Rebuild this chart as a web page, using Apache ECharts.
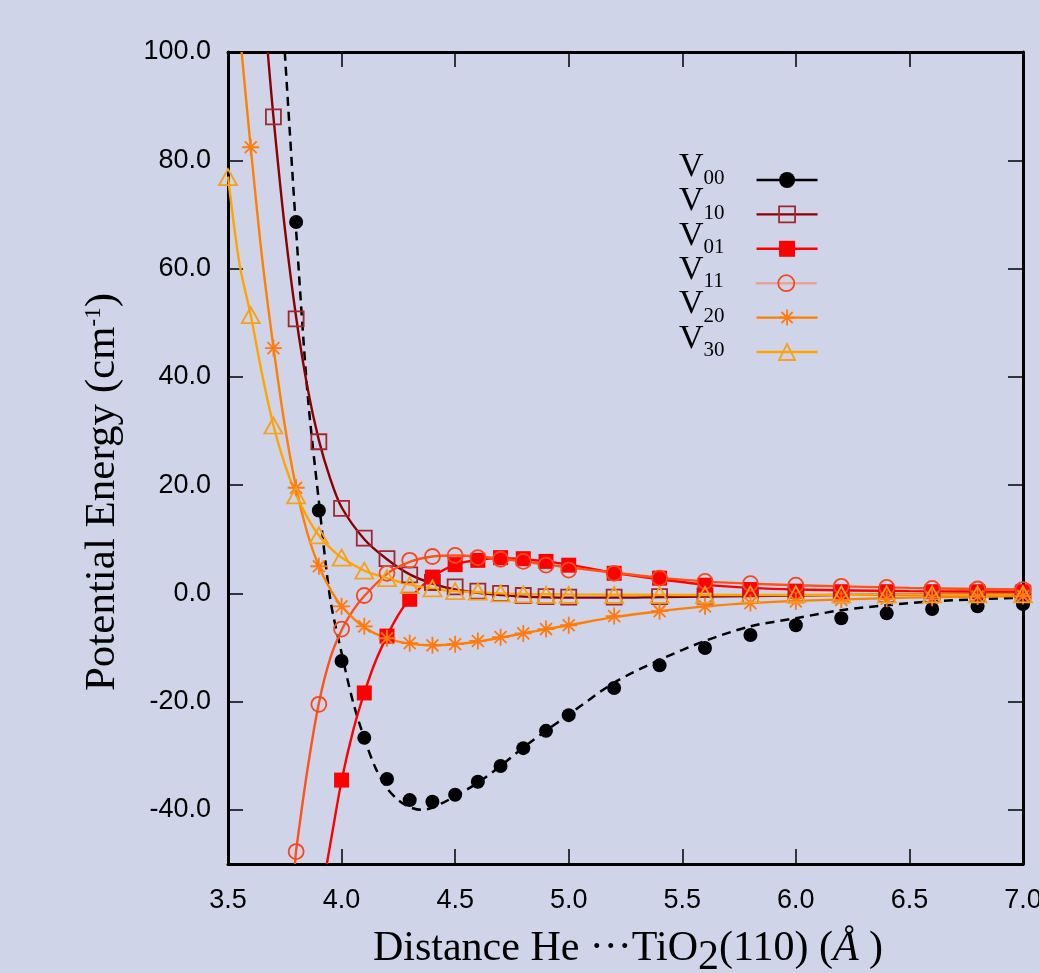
<!DOCTYPE html>
<html>
<head>
<meta charset="utf-8">
<script src="https://cdn.jsdelivr.net/npm/echarts@6.0.0/dist/echarts.min.js"></script>
<style>
  html, body { margin: 0; padding: 0; background: #cfd4e9; }
  #main { width: 1039px; height: 973px; }
</style>
</head>
<body>
<div id="main"></div>
<script>
// marker positions (Angstrom)
const xPts = [3.5, 3.6, 3.7, 3.8, 3.9, 4.0, 4.1, 4.2, 4.3, 4.4, 4.5, 4.6, 4.7, 4.8, 4.9, 5.0, 5.2, 5.4, 5.6, 5.8, 6.0, 6.2, 6.4, 6.6, 6.8, 7.0];

// ab initio points, cm-1
const v00 = [null, null, null, 68.6, 15.3, -12.5, -26.7, -34.3, -38.2, -38.5, -37.2, -34.8, -31.9, -28.6, -25.4, -22.5, -17.5, -13.3, -10.1, -7.7, -5.9, -4.6, -3.7, -2.9, -2.4, -2.0];
const v10 = [null, null, 88.0, 50.7, 28.0, 15.7, 10.2, 6.4, 3.4, 2.0, 1.2, 0.4, 0.0, -0.4, -0.6, -0.7, -0.7, -0.6, -0.5, -0.4, -0.3, -0.3, -0.2, -0.2, -0.1, -0.1];
const v01 = [null, null, null, null, null, -34.5, -18.4, -7.9, -1.1, 3.0, 5.3, 6.1, 6.6, 6.4, 5.9, 5.2, 3.7, 2.8, 1.5, 0.7, 0.4, 0.3, 0.3, 0.3, 0.3, 0.3];
const v11 = [null, null, null, -47.7, -20.5, -6.6, -0.4, 3.7, 6.1, 6.8, 7.0, 6.6, 6.3, 5.9, 5.2, 4.3, 3.7, 2.8, 2.2, 1.8, 1.5, 1.3, 1.1, 0.9, 0.8, 0.7];
const v20 = [null, 82.4, 45.3, 19.5, 5.0, -2.4, -6.1, -8.3, -9.2, -9.6, -9.4, -8.8, -8.1, -7.4, -6.6, -5.9, -4.2, -3.3, -2.4, -1.8, -1.5, -1.2, -1.0, -0.8, -0.6, -0.5];
const v30 = [76.9, 51.4, 31.0, 18.1, 10.7, 6.6, 4.2, 2.8, 1.5, 0.9, 0.4, 0.3, 0.0, -0.2, -0.3, -0.3, -0.3, -0.3, -0.3, -0.2, -0.2, -0.2, -0.2, -0.2, -0.2, -0.2];

// fitted curves
const fit00 = [[3.75, 100], [3.8, 67], [3.85, 37], [3.9, 17], [3.95, -1], [4.0, -11], [4.05, -20], [4.1, -26.8], [4.15, -32.3], [4.2, -36], [4.25, -38.2], [4.3, -39.5], [4.35, -40], [4.4, -39.6], [4.45, -38.6], [4.5, -37.5], [4.6, -35], [4.7, -31.9], [4.8, -28.5], [4.9, -25.4], [5.0, -22.4], [5.2, -16.5], [5.4, -12.3], [5.6, -8.8], [5.8, -6.1], [6.0, -4.6], [6.2, -3.1], [6.4, -2.2], [6.6, -1.5], [6.8, -1.1], [7.0, -0.8]];
const fit10 = [[3.675, 100], [3.7, 88], [3.75, 67.5], [3.8, 51], [3.85, 38], [3.9, 28.3], [3.95, 21.2], [4.0, 15.9], [4.1, 10], [4.2, 6.3], [4.3, 3.5], [4.4, 1.8], [4.5, 0.7], [4.6, 0.1], [4.7, -0.3], [4.8, -0.6], [5.0, -0.8], [5.2, -0.8], [5.4, -0.7], [5.6, -0.6], [6.0, -0.4], [6.5, -0.2], [7.0, -0.1]];
const fit01 = [[3.935, -50], [3.96, -44], [4.0, -34.6], [4.05, -25.5], [4.1, -18.4], [4.15, -12.5], [4.2, -7.9], [4.25, -4], [4.3, -1], [4.4, 3], [4.5, 5.3], [4.6, 6.2], [4.7, 6.5], [4.8, 6.3], [4.9, 5.9], [5.0, 5.3], [5.2, 3.8], [5.4, 2.6], [5.6, 1.6], [5.8, 1.0], [6.0, 0.7], [6.5, 0.4], [7.0, 0.3]];
const fit11 = [[3.795, -50], [3.8, -47.5], [3.85, -32.5], [3.9, -20.3], [3.95, -12], [4.0, -6.8], [4.05, -3.2], [4.1, -0.5], [4.2, 3.6], [4.3, 5.8], [4.4, 6.8], [4.5, 7.0], [4.6, 6.8], [4.7, 6.4], [4.8, 5.9], [4.9, 5.3], [5.0, 4.8], [5.2, 3.8], [5.4, 2.9], [5.6, 2.2], [5.8, 1.8], [6.0, 1.5], [6.5, 1.0], [7.0, 0.7]];
const fit20 = [[3.56, 100], [3.6, 82.4], [3.65, 62], [3.7, 45.5], [3.75, 31], [3.8, 19.5], [3.85, 11], [3.9, 5], [3.95, 0.8], [4.0, -2.4], [4.1, -6.3], [4.2, -8.3], [4.3, -9.3], [4.4, -9.6], [4.5, -9.4], [4.6, -8.9], [4.7, -8.2], [4.8, -7.4], [4.9, -6.6], [5.0, -5.9], [5.2, -4.4], [5.4, -3.3], [5.6, -2.4], [5.8, -1.8], [6.0, -1.4], [6.5, -0.8], [7.0, -0.5]];
const fit30 = [[3.5, 77], [3.55, 61], [3.6, 51.4], [3.65, 40.5], [3.7, 31], [3.75, 23.8], [3.8, 18.2], [3.85, 14], [3.9, 10.7], [3.95, 8.4], [4.0, 6.6], [4.1, 4.2], [4.2, 2.8], [4.3, 1.6], [4.4, 0.9], [4.5, 0.4], [4.6, 0.2], [4.7, 0], [4.8, -0.1], [5.0, -0.2], [5.5, -0.3], [6.0, -0.3], [6.5, -0.2], [7.0, -0.2]];

const yTicks = [-40, -20, 0, 20, 40, 60, 80, 100];

const serif = '"Liberation Serif", "DejaVu Serif", serif';
const sans = '"Liberation Sans", Arial, sans-serif';
const star = 'path://M10,0L10,20M0,10L20,10M3,3L17,17M3,17L17,3';

function pts(vals) {
  return xPts.map((x, i) => [x, vals[i]]).filter(p => p[1] != null);
}

// name, points, fit, line colour, marker colour, symbol, size, filled, legend line colour, dashed
const sets = [
  ['V00', v00, fit00, '#000000', '#000000', 'circle', 14, true, '#000000', true],
  ['V10', v10, fit10, '#8b0000', '#a0282d', 'rect', 15, false, '#8b0000'],
  ['V01', v01, fit01, '#ff0000', '#ff0000', 'rect', 15, true, '#ff0000'],
  ['V11', v11, fit11, '#ff5218', '#f4481c', 'circle', 15, false, '#eaa497'],
  ['V20', v20, fit20, '#ff7f00', '#ff7a10', star, 17, false, '#ff7f00'],
  ['V30', v30, fit30, '#ffa500', '#f5a01e', 'triangle', [18, 16], false, '#ffa500']
];

const series = [];
const legends = [];
sets.forEach(function (s, k) {
  series.push({
    name: s[0] + '_fit',
    type: 'line',
    data: s[2],
    symbol: 'none',
    smooth: 0.3,
    lineStyle: { color: s[3], width: s[9] ? 2.5 : 2.4, type: s[9] ? [9, 6] : 'solid' },
    silent: true,
    z: 2
  });
  const ist = s[7]
    ? { color: s[4], borderWidth: 0 }
    : { color: 'rgba(0,0,0,0)', borderColor: s[4], borderWidth: 1.8 };
  series.push({
    name: s[0],
    type: 'line',
    data: pts(s[1]),
    symbol: s[5],
    symbolSize: s[6],
    lineStyle: { opacity: 0 },
    itemStyle: ist,
    z: 3
  });
  // one legend box per entry, stacked by hand
  legends.push({
    orient: 'vertical',
    left: 679,
    top: 149.5 + k * 34.4,
    align: 'right',
    padding: 0,
    itemWidth: 61,
    itemHeight: 20,
    selectedMode: false,
    data: [{
      name: s[0],
      itemStyle: ist,
      lineStyle: { color: s[8], width: 2.4, type: 'solid', opacity: 1 }
    }],
    formatter: function (name) {
      return '{v|V}{s|' + name.slice(1) + '}';
    },
    textStyle: {
      color: '#000',
      rich: {
        v: { fontFamily: serif, fontSize: 34, lineHeight: 34, padding: [0.3, 0, 26.7, 0] },
        s: { fontFamily: serif, fontSize: 21, lineHeight: 21, padding: [18.6, 27, 21.4, 0] }
      }
    }
  });
});

const chart = echarts.init(document.getElementById('main'));
chart.setOption({
  backgroundColor: '#cfd4e9',
  animation: false,
  grid: { left: 228, right: 16, top: 52, bottom: 109, outerBoundsMode: 'none' },
  legend: legends,
  xAxis: [{
    type: 'value',
    min: 3.5,
    max: 7.0,
    interval: 0.5,
    axisLine: { onZero: false, lineStyle: { color: '#000', width: 3 } },
    axisTick: { inside: true, length: 15, lineStyle: { color: '#000', width: 1.5 } },
    axisLabel: {
      color: '#000', fontFamily: sans, fontSize: 27, margin: 23,
      formatter: v => v.toFixed(1)
    },
    splitLine: { show: false }
  }, {
    type: 'value',
    position: 'top',
    min: 3.5,
    max: 7.0,
    interval: 0.5,
    axisLine: { onZero: false, lineStyle: { color: '#000', width: 3 } },
    axisTick: { inside: true, length: 15, lineStyle: { color: '#000', width: 1.5 } },
    axisLabel: { show: false },
    splitLine: { show: false }
  }],
  yAxis: [{
    type: 'value',
    min: -50,
    max: 100,
    axisLine: { onZero: false, lineStyle: { color: '#000', width: 3 } },
    axisTick: { inside: true, length: 15, customValues: yTicks, lineStyle: { color: '#000', width: 1.5 } },
    axisLabel: {
      color: '#000', fontFamily: sans, fontSize: 27, margin: 17,
      customValues: yTicks,
      formatter: v => v.toFixed(1)
    },
    splitLine: { show: false }
  }, {
    type: 'value',
    position: 'right',
    min: -50,
    max: 100,
    axisLine: { onZero: false, lineStyle: { color: '#000', width: 3 } },
    axisTick: { inside: true, length: 15, customValues: yTicks, lineStyle: { color: '#000', width: 1.5 } },
    axisLabel: { show: false },
    splitLine: { show: false }
  }],
  graphic: [{
    type: 'text',
    x: 103,
    y: 492,
    rotation: Math.PI / 2,
    silent: true,
    style: {
      text: '{n|Potential Energy (cm}{s|-1}{n|)}',
      align: 'center',
      verticalAlign: 'middle',
      fill: '#000',
      rich: {
        n: { fontFamily: serif, fontSize: 43, lineHeight: 43 },
        s: { fontFamily: serif, fontSize: 23, lineHeight: 23, padding: [1, 0, 19, 0] }
      }
    }
  }, {
    type: 'text',
    x: 628,
    y: 953,
    silent: true,
    style: {
      text: '{n|Distance He \u00b7\u00b7\u00b7TiO}{s|2}{n|(110) (}{i|\u00c5}{n| )}',
      align: 'center',
      verticalAlign: 'middle',
      fill: '#000',
      rich: {
        n: { fontFamily: serif, fontSize: 42, lineHeight: 42, padding: [0, 0, 9, 0] },
        s: { fontFamily: serif, fontSize: 42, lineHeight: 42, padding: [9, 0, 0, 0] },
        i: { fontFamily: serif, fontSize: 42, lineHeight: 42, fontStyle: 'italic', padding: [0, 0, 9, 0] }
      }
    }
  }],
  series: series
});
</script>
</body>
</html>
